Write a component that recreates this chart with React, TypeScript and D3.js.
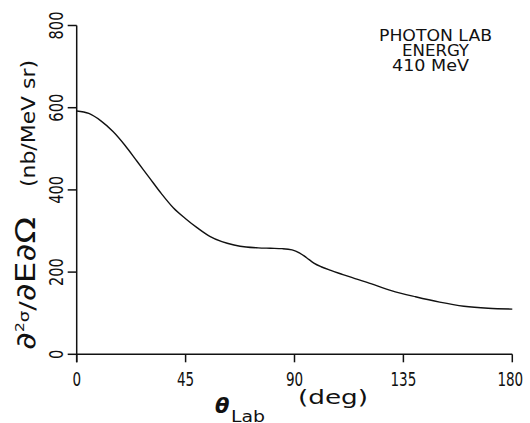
import React from "react";
import * as d3 from "d3";

const angles = [0, 5, 10, 15, 20, 25, 30, 35, 40, 45, 50, 55, 60, 65, 70, 75, 80, 85, 89, 92, 95, 98, 101, 105, 110, 115, 120, 130, 140, 150, 160, 170, 180];
const crossSection = [592, 586, 568, 542, 508, 469, 430, 391, 356, 330, 307, 287, 274, 266, 261, 259, 258, 257, 254, 247, 235, 222, 213, 204, 194, 184, 175, 155, 140, 127, 117, 112, 110];
const xTicks = [0, 45, 90, 135, 180];
const yTicks = [0, 200, 400, 600, 800];
const annotation = ["PHOTON LAB", "ENERGY", "410 MeV"];

const FONT = "'DejaVu Sans Condensed', 'Liberation Sans', sans-serif";

export default function App() {
  const W = 530, H = 423;
  const x = d3.scaleLinear().domain([0, 180]).range([76.7, 512.3]);
  const y = d3.scaleLinear().domain([0, 800]).range([354.3, 25.5]);
  const data = angles.map((a, i) => [a, crossSection[i]] as [number, number]);
  const line = d3.line<[number, number]>().x(d => x(d[0])).y(d => y(d[1])).curve(d3.curveMonotoneX);
  const x0 = x(0), y0 = y(0);
  return (
    <svg width={W} height={H} style={{ position: "absolute", left: 0, top: 0, background: "#fff" }} fontFamily={FONT}>
      <rect width={W} height={H} fill="#fff" />
      {/* axes */}
      <line x1={x0} x2={x0} y1={y(800)} y2={y0 + 8} stroke="#111" strokeWidth={1.5} />
      <line x1={x0} x2={x(180)} y1={y0} y2={y0} stroke="#111" strokeWidth={1.5} />
      {yTicks.map(t => (
        <g key={"y" + t}>
          <line x1={x0 - 9} x2={x0} y1={y(t)} y2={y(t)} stroke="#111" strokeWidth={1.5} />
          <text transform={`translate(63,${y(t)}) rotate(-90)`} textAnchor="middle" fontSize={20} fill="#111"
            textLength={String(t).length * 9.3} lengthAdjust="spacingAndGlyphs">{t}</text>
        </g>
      ))}
      {xTicks.map(t => (
        <g key={"x" + t}>
          <line x1={x(t)} x2={x(t)} y1={y0} y2={y0 + 8} stroke="#111" strokeWidth={1.5} />
          <text x={x(t) - (t === 180 ? 2 : 0)} y={386} textAnchor="middle" fontSize={19} fill="#111"
            textLength={String(t).length * 8.6} lengthAdjust="spacingAndGlyphs">{t}</text>
        </g>
      ))}
      {/* curve */}
      <path d={line(data) || ""} fill="none" stroke="#111" strokeWidth={1.4} />
      {/* annotation */}
      <text x={379} y={41} fontSize={16} fill="#111" textLength={113} lengthAdjust="spacingAndGlyphs">{annotation[0]}</text>
      <text x={402} y={56} fontSize={16} fill="#111" textLength={67} lengthAdjust="spacingAndGlyphs">{annotation[1]}</text>
      <text x={392} y={71} fontSize={16} fill="#111" textLength={77} lengthAdjust="spacingAndGlyphs">{annotation[2]}</text>
      {/* y label */}
      <text transform="translate(35,350) rotate(-90)" fontSize={27} fill="#111" fontFamily="'DejaVu Sans', sans-serif"
        textLength={133} lengthAdjust="spacingAndGlyphs">
        <tspan>∂</tspan>
        <tspan fontSize={12} dy={-11}>2</tspan>
        <tspan fontSize={14} dy={5}>σ</tspan>
        <tspan fontSize={22} dy={6}>/</tspan>
        <tspan>∂E∂Ω</tspan>
      </text>
      <text transform="translate(35,60) rotate(-90)" textAnchor="end" fontSize={20} fill="#111" textLength={127} lengthAdjust="spacingAndGlyphs">(nb/MeV  sr)</text>
      {/* x label */}
      <text x={215} y={413} fontSize={21} fontWeight="bold" fontStyle="italic" fill="#111" fontFamily="'DejaVu Sans', sans-serif">θ</text>
      <text x={231} y={422} fontSize={16} fill="#111" textLength={34} lengthAdjust="spacingAndGlyphs">Lab</text>
      <text x={298} y={404} fontSize={19} fill="#111" textLength={70} lengthAdjust="spacingAndGlyphs">(deg)</text>
    </svg>
  );
}
